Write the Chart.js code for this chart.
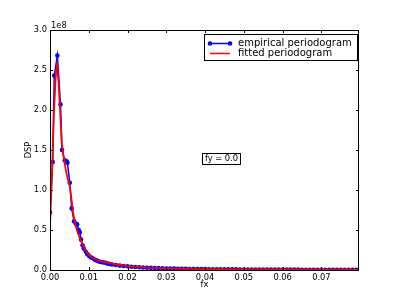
<!DOCTYPE html>
<html>
<head>
<meta charset="utf-8">
<script src="https://cdn.jsdelivr.net/npm/chart.js@4"></script>
<style>
body{margin:0;background:#fff}
</style>
</head>
<body>
<canvas id="myChart" width="399" height="299"></canvas>
<script>
// values of DSP are in units of 1e8
var fxEmp=[0,0.0007,0.0011,0.0019,0.0027,0.0031,0.0038,0.0043,0.0045,0.0051,0.0056,0.0062,0.0066,0.0070,0.0074,0.0077,0.0080,0.0084,0.0087,0.0092,0.0096,0.0100,0.0105,0.0109,0.0115,0.0120,0.0125,0.0130,0.0137,0.0143,0.0148,0.0154,
  0.016,0.017,0.018,0.019,0.020,0.021,0.022,0.023,0.024,0.025,0.026,0.027,0.028,0.029,0.030,0.031,0.032,0.033,0.034,0.035,0.036,0.037,0.038,0.039,0.040,
  0.041,0.042,0.043,0.044,0.045,0.046,0.047,0.048,0.049,0.050,0.051,0.052,0.053,0.054,0.055,0.056,0.057,0.058,0.059,0.060,
  0.061,0.062,0.063,0.064,0.065,0.066,0.067,0.068,0.069,0.070,0.071,0.072,0.073,0.074,0.075,0.076,0.077,0.078,0.079]
var dspEmp=[0.72,1.35,2.43,2.68,2.07,1.50,1.37,1.36,1.34,1.09,0.77,0.61,0.58,0.57,0.50,0.47,0.38,0.31,0.27,0.23,0.20,0.18,0.16,0.15,0.13,0.12,0.11,0.10,0.095,0.09,0.08,0.075,
  0.068,0.062,0.055,0.050,0.046,0.041,0.037,0.034,0.031,0.029,0.027,0.025,0.023,0.021,0.019,0.018,0.017,0.016,0.015,0.014,0.013,0.013,0.012,0.011,0.011,
  0.010,0.010,0.009,0.009,0.009,0.008,0.008,0.008,0.007,0.007,0.007,0.007,0.006,0.006,0.006,0.006,0.006,0.005,0.005,0.005,
  0.005,0.005,0.005,0.005,0.004,0.004,0.004,0.004,0.004,0.004,0.004,0.004,0.004,0.003,0.003,0.003,0.003,0.003,0.003]

var fxFit=[0,0.0005,0.001,0.0015,0.0018,0.0022,0.0026,0.003,0.0035,0.004,0.0045,0.005,0.0055,0.006,0.0065,0.007,0.0075,0.008,0.009,0.010,0.011,0.012,0.013,0.014,0.0156,0.017,0.020,0.025,0.030,0.035,0.040,0.050,0.060,0.070,0.0797]
var dspFit=[0.55,1.2,1.95,2.45,2.56,2.35,2.0,1.6,1.42,1.27,1.15,1.08,0.9,0.7,0.57,0.49,0.42,0.36,0.26,0.19,0.15,0.125,0.11,0.1,0.085,0.07,0.048,0.03,0.02,0.015,0.012,0.008,0.006,0.005,0.004]

var xTicks=[0,0.01,0.02,0.03,0.04,0.05,0.06,0.07]
var yTicks=[0,0.5,1.0,1.5,2.0,2.5,3.0]

var labels=["empirical periodogram","fitted periodogram"]
var fnt="'DejaVu Sans', sans-serif"

var extras={
    id:'extras',
    afterDraw:function(chart){
        var ctx=chart.ctx
        var a=chart.chartArea
        var sx=chart.scales.x, sy=chart.scales.y
        ctx.save()
        // frame
        ctx.strokeStyle='#000'
        ctx.lineWidth=1
        ctx.strokeRect(a.left+0.5,a.top+0.5,a.right-a.left-1,a.bottom-a.top)
        // inward ticks on all four sides
        ctx.beginPath()
        xTicks.forEach(function(v){
            var px=Math.round(sx.getPixelForValue(v))+0.5
            ctx.moveTo(px,a.bottom); ctx.lineTo(px,a.bottom-3)
            ctx.moveTo(px,a.top); ctx.lineTo(px,a.top+3)
        })
        yTicks.forEach(function(v){
            var py=Math.round(sy.getPixelForValue(v))+0.5
            ctx.moveTo(a.left,py); ctx.lineTo(a.left+3,py)
            ctx.moveTo(a.right,py); ctx.lineTo(a.right-3,py)
        })
        ctx.stroke()

        ctx.fillStyle='#000'
        ctx.font='8.3px '+fnt
        // offset text
        ctx.textAlign='left'; ctx.textBaseline='alphabetic'
        ctx.fillText('1e8',a.left+1,a.top-2)
        // axis titles
        ctx.textAlign='center'; ctx.textBaseline='middle'
        ctx.fillText('fx',(a.left+a.right)/2,285)
        ctx.save()
        ctx.translate(29,(a.top+a.bottom)/2)
        ctx.rotate(-Math.PI/2)
        ctx.fillText('DSP',0,0)
        ctx.restore()

        // fy text box
        ctx.fillText('fy = 0.0',221.5,159)
        ctx.strokeRect(202.5,153.5,38,11)

        // legend
        ctx.fillStyle='#fff'
        ctx.fillRect(204.5,34.5,153,26)
        ctx.strokeRect(204.5,34.5,153,26)
        var ds=chart.data.datasets
        ds.forEach(function(d,i){
            var y=43.5+i*10
            ctx.strokeStyle=d.borderColor
            ctx.lineWidth=1.5
            ctx.beginPath(); ctx.moveTo(210,y); ctx.lineTo(230,y); ctx.stroke()
            if(d.pointRadius>0){
                ctx.fillStyle=d.borderColor
                ;[210,230].forEach(function(px){
                    ctx.beginPath(); ctx.arc(px,y,2.3,0,Math.PI*2); ctx.fill()
                })
            }
            ctx.fillStyle='#000'
            ctx.font='10px '+fnt
            ctx.textAlign='left'; ctx.textBaseline='middle'
            ctx.fillText(d.label,238,y)
        })
        ctx.restore()
    }
}

var myChart=document.getElementById("myChart").getContext('2d')
var chart=new Chart(myChart,{
    type:'line',
    data:{
        datasets:[
            {
                label:labels[0],
                data:fxEmp.map(function(x,i){return {x:x,y:dspEmp[i]}}),
                borderColor:'#0000ff',
                backgroundColor:'#0000ff',
                borderWidth:1.5,
                pointRadius:2.3,
                pointBorderWidth:0,
                pointHoverRadius:0,
                fill:false,
                order:1
            },
            {
                label:labels[1],
                data:fxFit.map(function(x,i){return {x:x,y:dspFit[i]}}),
                borderColor:'#ff0000',
                backgroundColor:'#ff0000',
                borderWidth:1.8,
                pointRadius:0,
                fill:false,
                order:0
            }
        ]
    },
    options:{
        responsive:false,
        animation:false,
        devicePixelRatio:1,
        layout:{padding:{top:30,right:40,left:0,bottom:0}},
        plugins:{legend:{display:false},tooltip:{enabled:false}},
        scales:{
            x:{
                type:'linear',
                min:0,
                max:0.0797,
                grid:{display:false,drawTicks:false},
                border:{display:false},
                afterBuildTicks:function(s){ s.ticks=xTicks.map(function(v){return {value:v}}) },
                afterFit:function(s){ s.height=29 },
                ticks:{
                    color:'#000',
                    font:{family:fnt,size:8.3},
                    padding:3,
                    maxRotation:0,
                    autoSkip:false,
                    callback:function(v){return v.toFixed(2)}
                }
            },
            y:{
                type:'linear',
                min:0,
                max:3,
                grid:{display:false,drawTicks:false},
                border:{display:false},
                afterBuildTicks:function(s){ s.ticks=yTicks.map(function(v){return {value:v}}) },
                afterFit:function(s){ s.width=50 },
                ticks:{
                    color:'#000',
                    font:{family:fnt,size:8.3},
                    padding:3,
                    callback:function(v){return v.toFixed(1)}
                }
            }
        }
    },
    plugins:[extras]
})
</script>
</body>
</html>
